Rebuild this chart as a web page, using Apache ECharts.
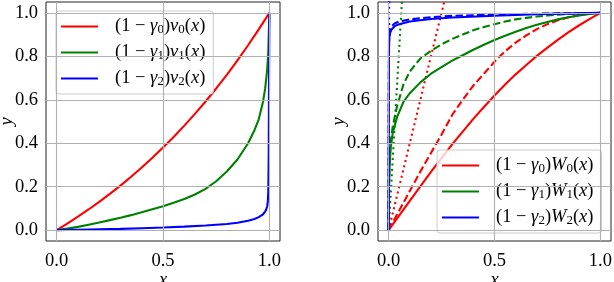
<!DOCTYPE html>
<html><head><meta charset="utf-8">
<script src="https://cdn.jsdelivr.net/npm/echarts@6/dist/echarts.min.js"></script>
<style>html,body{margin:0;padding:0;background:#fff}#c{width:614px;height:282px}</style>
</head><body><div id="c"></div>
<script>
// ---- tick labels ----
const xTicks = [0, 0.5, 1.0];
const yTicks = [0, 0.2, 0.4, 0.6, 0.8, 1.0];

// ---- left panel: (1-γi) v_i(x) ----
const v0X = [0, 0.05, 0.1, 0.15, 0.2, 0.25, 0.3, 0.35, 0.4, 0.45, 0.5, 0.55, 0.6, 0.65, 0.7, 0.75, 0.8, 0.85, 0.9, 0.95, 1.0];
const v0Y = [0, 0.030, 0.062, 0.095, 0.130, 0.167, 0.205, 0.246, 0.288, 0.333, 0.380, 0.429, 0.481, 0.535, 0.592, 0.652, 0.715, 0.781, 0.851, 0.924, 1.0];
const v1X = [0, 0.05, 0.1, 0.15, 0.2, 0.25, 0.3, 0.35, 0.4, 0.45, 0.5, 0.55, 0.6, 0.65, 0.7, 0.75, 0.8, 0.85, 0.9, 0.93, 0.95, 0.97, 0.98, 0.99, 0.995, 1.0];
const v1Y = [0, 0.007, 0.015, 0.025, 0.035, 0.046, 0.057, 0.069, 0.082, 0.096, 0.11, 0.126, 0.143, 0.164, 0.19, 0.225, 0.27, 0.325, 0.40, 0.46, 0.51, 0.59, 0.65, 0.74, 0.82, 1.0];
const v2X = [0, 0.1, 0.2, 0.3, 0.4, 0.5, 0.6, 0.7, 0.8, 0.85, 0.9, 0.93, 0.95, 0.97, 0.98, 0.985, 0.99, 0.993, 0.995, 0.997, 0.998, 1.0];
const v2Y = [0, 0.002, 0.004, 0.006, 0.009, 0.012, 0.016, 0.021, 0.028, 0.034, 0.043, 0.051, 0.06, 0.073, 0.085, 0.095, 0.11, 0.135, 0.18, 0.35, 0.6, 1.0];

// ---- right panel: (1-γi) W_i(x) solid, dashed, dotted ----
const W0X = [0, 0.1, 0.2, 0.3, 0.4, 0.45, 0.5, 0.55, 0.6, 0.65, 0.7, 0.75, 0.8, 0.85, 0.9, 0.95, 1.0];
const W0Y = [0, 0.135, 0.268, 0.395, 0.512, 0.567, 0.62, 0.67, 0.717, 0.76, 0.802, 0.84, 0.877, 0.911, 0.943, 0.972, 1.0];
const W0dashX = [0, 0.05, 0.1, 0.15, 0.2, 0.25, 0.3, 0.35, 0.4, 0.45, 0.5, 0.55, 0.6, 0.65, 0.7, 0.75, 0.8, 0.85, 0.9, 0.95, 1.0];
const W0dashY = [0, 0.09, 0.18, 0.27, 0.355, 0.44, 0.53, 0.60, 0.665, 0.72, 0.775, 0.823, 0.863, 0.896, 0.925, 0.948, 0.966, 0.98, 0.99, 0.997, 1.0];
const W0dotX = [0, 0.3];
const W0dotY = [0, 1.2];

const W1X = [0, 0.002, 0.005, 0.01, 0.02, 0.04, 0.07, 0.1, 0.15, 0.2, 0.25, 0.3, 0.35, 0.4, 0.45, 0.5, 0.55, 0.6, 0.65, 0.7, 0.75, 0.8, 0.85, 0.9, 0.95, 1.0];
const W1Y = [0, 0.2, 0.3, 0.38, 0.45, 0.52, 0.59, 0.63, 0.68, 0.72, 0.75, 0.78, 0.805, 0.83, 0.853, 0.875, 0.895, 0.913, 0.93, 0.945, 0.958, 0.97, 0.98, 0.988, 0.995, 1.0];
const W1dashX = [0, 0.002, 0.005, 0.01, 0.02, 0.04, 0.07, 0.1, 0.15, 0.2, 0.25, 0.3, 0.35, 0.4, 0.45, 0.5, 0.55, 0.6, 0.65, 0.7, 0.75, 0.8, 0.85, 0.9, 0.95, 1.0];
const W1dashY = [0, 0.22, 0.33, 0.41, 0.48, 0.57, 0.67, 0.73, 0.79, 0.825, 0.855, 0.88, 0.9, 0.92, 0.935, 0.948, 0.96, 0.97, 0.977, 0.983, 0.988, 0.992, 0.995, 0.997, 0.999, 1.0];
const W1dotX = [0, 0.07];
const W1dotY = [0, 1.17];

const W2X = [0, 0.001, 0.002, 0.004, 0.008, 0.015, 0.03, 0.05, 0.1, 0.2, 0.3, 0.5, 0.7, 1.0];
const W2Y = [0, 0.6, 0.85, 0.89, 0.91, 0.925, 0.94, 0.948, 0.96, 0.972, 0.979, 0.987, 0.994, 1.0];
const W2dashX = [0, 0.001, 0.002, 0.004, 0.008, 0.015, 0.03, 0.05, 0.1, 0.2, 0.3, 0.5, 0.7, 1.0];
const W2dashY = [0, 0.65, 0.88, 0.91, 0.925, 0.94, 0.952, 0.96, 0.97, 0.98, 0.986, 0.992, 0.996, 1.0];
const W2dotX = [0, 0.003];
const W2dotY = [0, 1.2];

const RED = '#ff0000', GREEN = '#008000', BLUE = '#0000ff';
const FONT = 'Liberation Serif';
const FS = 18.5;

const zip = (xs, ys) => xs.map((x, i) => [x, ys[i]]);

const labelOf = {
  v0: '{n|(1 − }{i|γ}{s|0}{n|)}{i|v}{s|0}{n|(}{i|x}{n|)}',
  v1: '{n|(1 − }{i|γ}{s|1}{n|)}{i|v}{s|1}{n|(}{i|x}{n|)}',
  v2: '{n|(1 − }{i|γ}{s|2}{n|)}{i|v}{s|2}{n|(}{i|x}{n|)}',
  W0: '{n|(1 − }{i|γ}{s|0}{n|)}{i|W}{s|0}{n|(}{i|x}{n|)}',
  W1: '{n|(1 − }{i|γ}{s|1}{n|)}{i|W}{s|1}{n|(}{i|x}{n|)}',
  W2: '{n|(1 − }{i|γ}{s|2}{n|)}{i|W}{s|2}{n|(}{i|x}{n|)}'
};

const rich = {
  n: {fontFamily: FONT, fontSize: FS, lineHeight: 19, color: '#000'},
  i: {fontFamily: FONT, fontSize: FS, lineHeight: 19, fontStyle: 'italic', color: '#000'},
  s: {fontFamily: FONT, fontSize: 13, lineHeight: 13, verticalAlign: 'bottom', color: '#000'}
};

function legendCfg(names, left, top) {
  return {
    data: names, left: left, top: top, orient: 'vertical',
    icon: 'rect', itemWidth: 37, itemHeight: 2, itemGap: 7,
    padding: [6, 8, 6, 5],
    backgroundColor: 'rgba(255,255,255,0.8)', borderColor: '#cccccc', borderWidth: 1, borderRadius: 3,
    selectedMode: false,
    formatter: n => labelOf[n],
    textStyle: {fontFamily: FONT, fontSize: FS, color: '#000', padding: [0, 0, 0, 12], rich: rich}
  };
}

function xAxisCfg(gi) {
  return {
    type: 'value', gridIndex: gi, min: -0.05, max: 1.05,
    splitLine: {show: false}, axisLine: {show: false},
    axisTick: {show: true, inside: false, length: 5, customValues: xTicks, lineStyle: {color: '#222', width: 1}},
    axisLabel: {customValues: xTicks, formatter: v => v.toFixed(1), fontFamily: FONT, fontSize: FS, color: '#000', margin: 11},
    name: 'x', nameLocation: 'middle', nameGap: 30, nameMoveOverlap: false,
    nameTextStyle: {fontFamily: FONT, fontStyle: 'italic', fontSize: FS, color: '#000'}
  };
}
function yAxisCfg(gi) {
  return {
    type: 'value', gridIndex: gi, min: -0.05, max: 1.05,
    splitLine: {show: false}, axisLine: {show: false},
    axisTick: {show: true, inside: false, length: 5, customValues: yTicks, lineStyle: {color: '#222', width: 1}},
    axisLabel: {customValues: yTicks, formatter: v => v.toFixed(1), fontFamily: FONT, fontSize: FS, color: '#000', margin: 8},
    name: 'y', nameLocation: 'middle', nameGap: 29, nameRotate: 90, nameMoveOverlap: false,
    nameTextStyle: {fontFamily: FONT, fontStyle: 'italic', fontSize: FS, color: '#000'}
  };
}

function gridLines(gi) {
  return {
    type: 'line', xAxisIndex: gi, yAxisIndex: gi, data: [], z: 1, silent: true,
    markLine: {
      silent: true, symbol: ['none', 'none'], animation: false,
      label: {show: false},
      lineStyle: {color: '#b0b0b0', width: 1.1, type: 'solid'},
      emphasis: {disabled: true},
      data: xTicks.map(v => ({xAxis: v})).concat(yTicks.map(v => ({yAxis: v})))
    }
  };
}

function line(name, gi, xs, ys, color, type) {
  return {
    type: 'line', name: name, xAxisIndex: gi, yAxisIndex: gi, z: 2,
    data: zip(xs, ys), showSymbol: false, symbol: 'none', color: color,
    smooth: false, clip: true,
    lineStyle: {color: color, width: 2.1, type: type || 'solid'},
    emphasis: {disabled: true}
  };
}

const DASH = [7.5, 3.3], DOT = [2, 3.4];

const chart = echarts.init(document.getElementById('c'), null, {renderer: 'canvas'});
chart.setOption({
  animation: false,
  backgroundColor: '#fff',
  grid: [
    {left: 46, top: 2, width: 234, height: 239, outerBoundsMode: 'none', containLabel: false, show: true, borderColor: '#222', borderWidth: 1, backgroundColor: 'transparent'},
    {left: 378, top: 2, width: 233, height: 239, outerBoundsMode: 'none', containLabel: false, show: true, borderColor: '#222', borderWidth: 1, backgroundColor: 'transparent'}
  ],
  xAxis: [xAxisCfg(0), xAxisCfg(1)],
  yAxis: [yAxisCfg(0), yAxisCfg(1)],
  legend: [legendCfg(['v0', 'v1', 'v2'], 56, 11), legendCfg(['W0', 'W1', 'W2'], 437, 150)],
  series: [
    gridLines(0), gridLines(1),
    line('v0', 0, v0X, v0Y, RED),
    line('v1', 0, v1X, v1Y, GREEN),
    line('v2', 0, v2X, v2Y, BLUE),
    line('W0', 1, W0X, W0Y, RED),
    line('W0 dashed', 1, W0dashX, W0dashY, RED, DASH),
    line('W0 dotted', 1, W0dotX, W0dotY, RED, DOT),
    line('W1', 1, W1X, W1Y, GREEN),
    line('W1 dashed', 1, W1dashX, W1dashY, GREEN, DASH),
    line('W1 dotted', 1, W1dotX, W1dotY, GREEN, DOT),
    line('W2', 1, W2X, W2Y, BLUE),
    line('W2 dashed', 1, W2dashX, W2dashY, BLUE, DASH),
    line('W2 dotted', 1, W2dotX, W2dotY, BLUE, DOT)
  ]
});
</script></body></html>
